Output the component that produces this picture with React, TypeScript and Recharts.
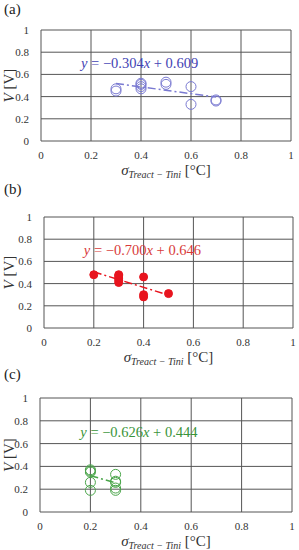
import {
  ScatterChart,
  Scatter,
  XAxis,
  YAxis,
  CartesianGrid,
  ReferenceLine,
  Label,
} from "recharts";

const xTicks = [0, 0.2, 0.4, 0.6, 0.8, 1];
const yTicks = [0, 0.2, 0.4, 0.6, 0.8, 1];

// (a) blue open circles
const aSigma = [0.3, 0.3, 0.4, 0.4, 0.4, 0.4, 0.5, 0.5, 0.6, 0.6, 0.7, 0.7];
const aV = [0.45, 0.47, 0.47, 0.49, 0.51, 0.52, 0.51, 0.53, 0.49, 0.33, 0.36, 0.37];

// (b) red filled dots
const bSigma = [0.2, 0.3, 0.3, 0.3, 0.3, 0.3, 0.4, 0.4, 0.4, 0.5];
const bV = [0.48, 0.41, 0.43, 0.45, 0.47, 0.48, 0.46, 0.3, 0.28, 0.31];

// (c) green open circles
const cSigma = [0.2, 0.2, 0.2, 0.2, 0.2, 0.3, 0.3, 0.3, 0.3, 0.3];
const cV = [0.37, 0.36, 0.35, 0.26, 0.19, 0.33, 0.27, 0.26, 0.21, 0.19];

// linear fits: slope, intercept, x range
const fitSlope = [-0.304, -0.7, -0.626];
const fitIntercept = [0.609, 0.646, 0.444];
const fitRange = [
  [0.3, 0.7],
  [0.2, 0.5],
  [0.2, 0.3],
];
const eqLabel = ["−0.304", "−0.700", "−0.626"];
const eqConst = ["0.609", "0.646", "0.444"];
const panelNames = ["(a)", "(b)", "(c)"];

const SERIF = "Liberation Serif, Times New Roman, DejaVu Serif, serif";

type PanelProps = {
  idx: number;
  top: number;
  plotLeft: number;
  plotRight: number;
  plotTop: number;
  plotBottom: number;
  xs: number[];
  ys: number[];
  color: string;
  textColor: string;
  filled: boolean;
};

function Panel({
  idx,
  top,
  plotLeft,
  plotRight,
  plotTop,
  plotBottom,
  xs,
  ys,
  color,
  textColor,
  filled,
}: PanelProps) {
  const height = plotBottom - top + 42;
  const points = xs.map((x, i) => ({ x, y: ys[i] }));
  const [x0, x1] = fitRange[idx];
  const m = fitSlope[idx];
  const b = fitIntercept[idx];
  const eqPoint = [{ x: 0.16, y: 0.66 }];

  return (
    <div style={{ position: "absolute", left: 0, top, width: 299, height }}>
      <div
        style={{
          position: "absolute",
          left: 4,
          top: 1,
          fontFamily: SERIF,
          fontSize: 15,
          color: "#222",
        }}
      >
        {panelNames[idx]}
      </div>
      <ScatterChart
        width={299}
        height={height}
        margin={{ top: plotTop - top, right: 299 - plotRight, left: 0, bottom: 0 }}
        style={{ fontFamily: SERIF }}
      >
        <CartesianGrid stroke="#555" strokeWidth={1} />
        <XAxis
          type="number"
          dataKey="x"
          domain={[0, 1]}
          ticks={xTicks}
          tickLine={false}
          axisLine={false}
          height={42}
          tick={{ fontSize: 11, fill: "#333", fontFamily: SERIF }}
          tickMargin={4}
          interval={0}
        >
          <Label
            content={(p: any) => {
              const vb = p.viewBox;
              return (
                <text
                  x={vb.x + vb.width / 2}
                  y={vb.y + 34}
                  textAnchor="middle"
                  style={{ fontFamily: SERIF }}
                  fontSize={15}
                  fill="#333"
                >
                  <tspan fontStyle="italic">σ</tspan>
                  <tspan fontStyle="italic" fontSize={10} dy={3}>
                    Treact − Tini
                  </tspan>
                  <tspan dy={-3}> [°C]</tspan>
                </text>
              );
            }}
          />
        </XAxis>
        <YAxis
          type="number"
          dataKey="y"
          domain={[0, 1]}
          ticks={yTicks}
          tickLine={false}
          axisLine={false}
          width={plotLeft}
          tick={{ fontSize: 11, fill: "#333", fontFamily: SERIF }}
          tickMargin={6}
          interval={0}
        >
          <Label
            content={(p: any) => {
              const vb = p.viewBox;
              const cy = vb.y + vb.height / 2;
              return (
                <text
                  x={14}
                  y={cy}
                  textAnchor="middle"
                  transform={`rotate(-90 14 ${cy})`}
                  style={{ fontFamily: SERIF }}
                  fontSize={15}
                  fill="#333"
                >
                  <tspan fontStyle="italic">V</tspan>
                  <tspan> [V]</tspan>
                </text>
              );
            }}
          />
        </YAxis>
        <ReferenceLine
          segment={[
            { x: x0, y: m * x0 + b },
            { x: x1, y: m * x1 + b },
          ]}
          stroke={color}
          strokeWidth={1.5}
          strokeDasharray="8 3 2 3"
          ifOverflow="visible"
        />
        <Scatter
          data={points}
          isAnimationActive={false}
          shape={(p: any) => (
            <circle
              cx={p.cx}
              cy={p.cy}
              r={filled ? 4 : 5}
              fill={filled ? color : "none"}
              stroke={color}
              strokeWidth={1}
            />
          )}
        />
        <Scatter
          data={eqPoint}
          isAnimationActive={false}
          shape={(p: any) => (
            <text
              x={p.cx}
              y={p.cy}
              style={{ fontFamily: SERIF }}
              fontSize={14.5}
              fill={textColor}
            >
              <tspan fontStyle="italic">y</tspan>
              <tspan> = {eqLabel[idx]}</tspan>
              <tspan fontStyle="italic">x</tspan>
              <tspan> + {eqConst[idx]}</tspan>
            </text>
          )}
        />
      </ScatterChart>
    </div>
  );
}

export default function App() {
  return (
    <div
      style={{
        position: "absolute",
        left: 0,
        top: 0,
        width: 299,
        height: 550,
        background: "#fff",
        fontFamily: SERIF,
      }}
    >
      <Panel
        idx={0}
        top={0}
        plotLeft={41}
        plotRight={291}
        plotTop={30}
        plotBottom={141}
        xs={aSigma}
        ys={aV}
        color="#7a7ad2"
        textColor="#4343b4"
        filled={false}
      />
      <Panel
        idx={1}
        top={180}
        plotLeft={44}
        plotRight={293}
        plotTop={217}
        plotBottom={328}
        xs={bSigma}
        ys={bV}
        color="#e8141e"
        textColor="#d83a3a"
        filled={true}
      />
      <Panel
        idx={2}
        top={365}
        plotLeft={40}
        plotRight={292}
        plotTop={398}
        plotBottom={512}
        xs={cSigma}
        ys={cV}
        color="#4aa54a"
        textColor="#3a943a"
        filled={false}
      />
    </div>
  );
}
